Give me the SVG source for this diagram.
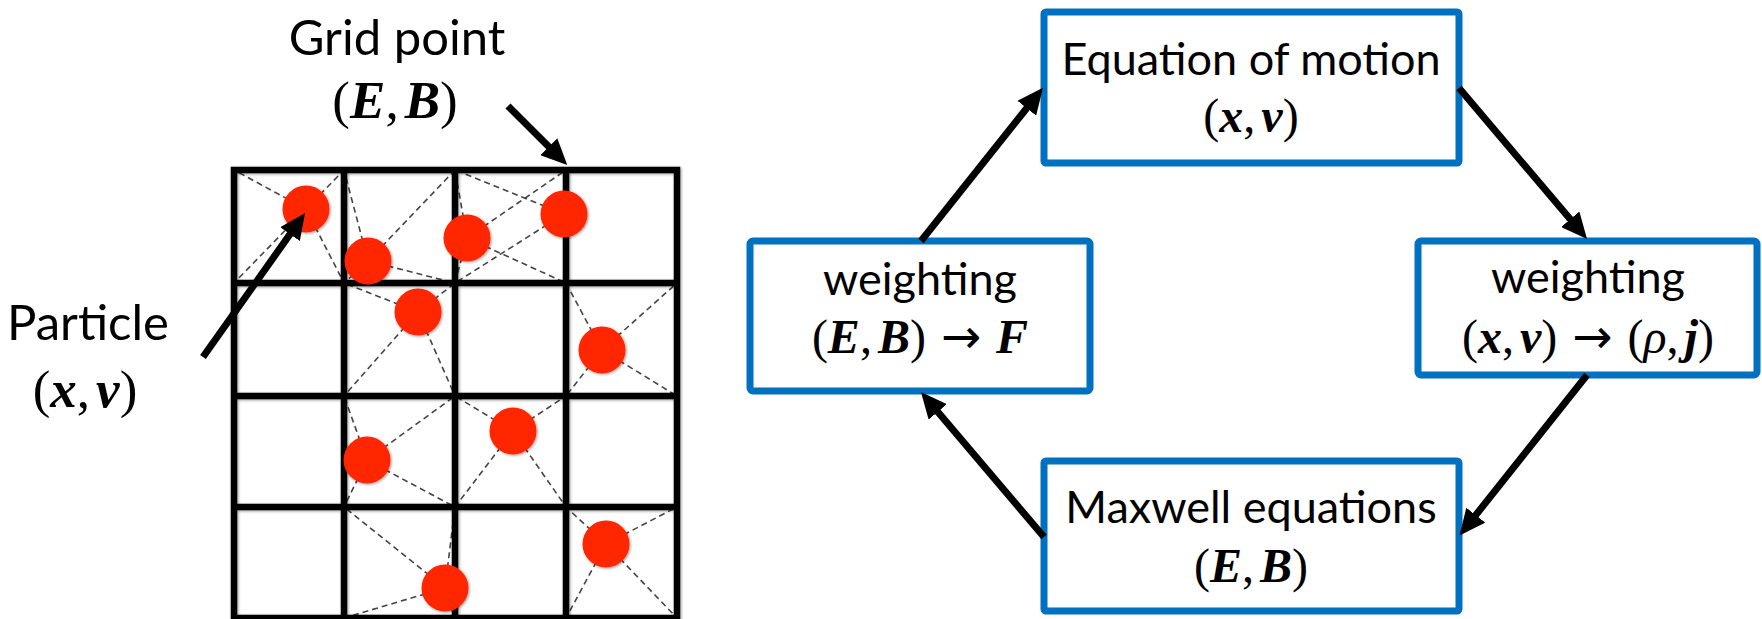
<svg xmlns="http://www.w3.org/2000/svg" width="1762" height="619" viewBox="0 0 1762 619">
<style>
.lbl{font-family:Lato,"Open Sans","Liberation Sans",sans-serif;font-size:45px;fill:#000;text-anchor:middle}
.lbl2{font-family:Lato,"Open Sans","Liberation Sans",sans-serif;font-size:49px;fill:#000;text-anchor:middle}
.math{font-family:"Liberation Serif","DejaVu Serif",serif;font-size:48px;fill:#000;text-anchor:middle}
.math2{font-family:"Liberation Serif","DejaVu Serif",serif;font-size:53px;fill:#000;text-anchor:middle}
.v{font-weight:bold;font-style:italic}
.it{font-style:italic}
.ar{font-family:"DejaVu Sans",sans-serif;font-size:48px;font-weight:normal}
.box{fill:#fff;stroke:#0070C0;stroke-width:7}
.grid{fill:none;stroke:#000;stroke-width:6.5;stroke-linecap:square}
.dash{stroke:#444;stroke-width:1.6;stroke-dasharray:6 4;fill:none}
.particle{fill:#ff2600}
.conn{stroke:#000;stroke-width:7;fill:none;marker-end:url(#arrow)}
</style>
<defs>
<marker id="arrow" viewBox="0 0 26 24" markerUnits="userSpaceOnUse" markerWidth="26" markerHeight="24" refX="6" refY="12" orient="auto">
<path d="M0,0 L26,12 L0,24 z" fill="#000"/>
</marker>
<filter id="soft" x="-5%" y="-5%" width="110%" height="110%">
<feGaussianBlur in="SourceAlpha" stdDeviation="1.5" result="b"/>
<feOffset dx="1" dy="1" result="o"/>
<feComponentTransfer in="o" result="s"><feFuncA type="linear" slope="0.4"/></feComponentTransfer>
<feMerge><feMergeNode in="s"/><feMergeNode in="SourceGraphic"/></feMerge>
</filter>
</defs>
<rect width="1762" height="619" fill="#fff"/>

<g id="particle-grid">
<g id="weight-lines" class="dash">
<path d="M306,209L234,170M306,209L344,170M306,209L234,283M306,209L344,283"/>
<path d="M368,261L344,170M368,261L455,170M368,261L455,283M368,261L344,283"/>
<path d="M467,238L455,170M467,238L566,170M467,238L455,283M467,238L566,283"/>
<path d="M564,214L455,170M564,214L566,170M564,214L455,283M564,214L566,283"/>
<path d="M418,312L344,283M418,312L455,283M418,312L344,396M418,312L455,396"/>
<path d="M602,350L566,283M602,350L677,283M602,350L566,396M602,350L677,396"/>
<path d="M367,460L344,396M367,460L455,396M367,460L455,507M367,460L344,507"/>
<path d="M513,431L455,396M513,431L566,396M513,431L455,507M513,431L566,507"/>
<path d="M606,544L566,507M606,544L677,507M606,544L566,618M606,544L677,618"/>
<path d="M445,588L344,507M445,588L455,507M445,588L344,618M445,588L455,618"/>
</g>
<path class="grid" filter="url(#soft)" d="M234,170H677M234,283H677M234,396H677M234,507H677M234,618H677M234,170V618M344,170V618M455,170V618M566,170V618M677,170V618"/>
<g id="particles" filter="url(#soft)">
<circle class="particle" cx="306" cy="209" r="23.5"/>
<circle class="particle" cx="368" cy="261" r="23.5"/>
<circle class="particle" cx="467" cy="238" r="23.5"/>
<circle class="particle" cx="564" cy="214" r="23.5"/>
<circle class="particle" cx="418" cy="312" r="23.5"/>
<circle class="particle" cx="602" cy="350" r="23.5"/>
<circle class="particle" cx="367" cy="460" r="23.5"/>
<circle class="particle" cx="513" cy="431" r="23.5"/>
<circle class="particle" cx="606" cy="544" r="23.5"/>
<circle class="particle" cx="445" cy="588" r="23.5"/>
</g>
</g>

<g id="grid-point-label">
<text class="lbl2" x="397" y="55">Grid point</text>
<text class="math2" x="395" y="118">(<tspan class="v">E</tspan>,<tspan class="v" dx="6">B</tspan>)</text>
</g>
<g id="particle-label">
<text class="lbl2" x="88" y="340">Particle</text>
<text class="math2" x="85" y="407">(<tspan class="v">x</tspan>,<tspan class="v" dx="6">v</tspan>)</text>
</g>

<g id="node-motion">
<rect class="box" x="1044" y="12" width="415" height="151" rx="2"/>
<text class="lbl" x="1251" y="75">Equation of motion</text>
<text class="math" x="1251" y="132">(<tspan class="v">x</tspan>,<tspan class="v" dx="6">v</tspan>)</text>
</g>
<g id="node-weight-f">
<rect class="box" x="750" y="241" width="340" height="150" rx="3"/>
<text class="lbl" x="920" y="295">weighting</text>
<text class="math" x="920" y="353">(<tspan class="v">E</tspan>,<tspan class="v" dx="6">B</tspan>)<tspan class="ar" dx="15">→</tspan><tspan class="v" dx="15">F</tspan></text>
</g>
<g id="node-weight-rho">
<rect class="box" x="1418" y="241" width="339" height="134" rx="3"/>
<text class="lbl" x="1588" y="293">weighting</text>
<text class="math" x="1588" y="353">(<tspan class="v">x</tspan>,<tspan class="v" dx="6">v</tspan>)<tspan class="ar" dx="15">→</tspan><tspan dx="15">(</tspan><tspan class="it">ρ</tspan>,<tspan class="v" dx="6">j</tspan>)</text>
</g>
<g id="node-maxwell">
<rect class="box" x="1044" y="461" width="415" height="150" rx="2"/>
<text class="lbl" x="1251" y="523">Maxwell equations</text>
<text class="math" x="1251" y="582">(<tspan class="v">E</tspan>,<tspan class="v" dx="6">B</tspan>)</text>
</g>

<g id="connectors">
<line class="conn" x1="921" y1="241" x2="1030.5" y2="103.5"/>
<line class="conn" x1="1459" y1="88" x2="1574.1" y2="223.8"/>
<line class="conn" x1="1587" y1="375" x2="1472" y2="519.8"/>
<line class="conn" x1="1044" y1="537" x2="933.9" y2="407.3"/>
<line class="conn" x1="508" y1="106" x2="553.1" y2="150.9"/>
<line class="conn" x1="203" y1="357" x2="293.5" y2="229.3"/>
</g>
</svg>
